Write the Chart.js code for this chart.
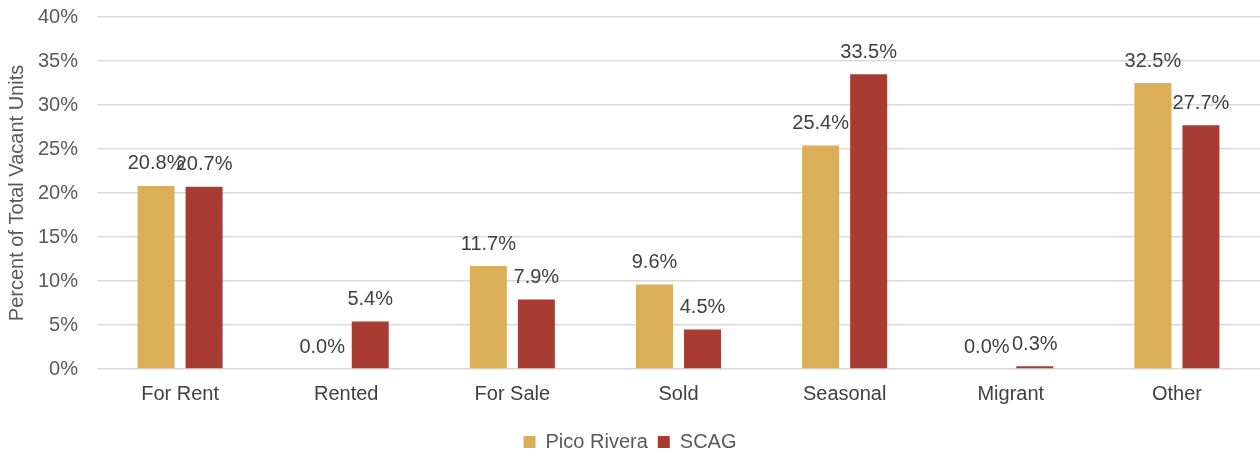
<!DOCTYPE html>
<html><head><meta charset="utf-8">
<script src="https://cdn.jsdelivr.net/npm/chart.js@4"></script>
<style>html,body{margin:0;padding:0;background:#fff;}#wrap{width:1260px;height:453px;}</style>
</head><body><div id="wrap"><canvas id="c"></canvas></div>
<script>
const categories = ["For Rent","Rented","For Sale","Sold","Seasonal","Migrant","Other"];
const picoRivera = [20.8, 0.0, 11.7, 9.6, 25.4, 0.0, 32.5];
const scag = [20.7, 5.4, 7.9, 4.5, 33.5, 0.3, 27.7];
const yTicks = [0,5,10,15,20,25,30,35,40];
const FONT = "'Liberation Sans', Arial, sans-serif";
const FS = 20;

const labelPlugin = {
  id: 'barLabels',
  beforeLayout(chart) {
    const lg = chart.legend;
    if (lg && !lg._patched) {
      const orig = lg.fit;
      lg.fit = function() { orig.call(this); this.height -= 9; };
      lg._patched = true;
    }
  },
  afterDatasetsDraw(chart) {
    const ctx = chart.ctx;
    ctx.save();
    ctx.font = FS + "px " + FONT;
    ctx.fillStyle = "#404040";
    ctx.textAlign = "center";
    ctx.textBaseline = "middle";
    chart.data.datasets.forEach((ds, i) => {
      chart.getDatasetMeta(i).data.forEach((bar, j) => {
        ctx.fillText(ds.data[j].toFixed(1) + "%", bar.x, bar.y - 22);
      });
    });
    ctx.restore();
  }
};

new Chart(document.getElementById('c'), {
  type: 'bar',
  data: {
    labels: categories,
    datasets: [
      {label: "Pico Rivera", data: picoRivera, backgroundColor: "#DBAE58", categoryPercentage: 0.578, barPercentage: 0.77},
      {label: "SCAG", data: scag, backgroundColor: "#A93C32", categoryPercentage: 0.578, barPercentage: 0.77}
    ]
  },
  options: {
    responsive: true, maintainAspectRatio: false, animation: false,
    layout: {padding: {top: 17, right: 0, left: 0, bottom: 0}},
    plugins: {
      legend: {position: 'bottom', labels: {font: {size: FS, family: FONT}, color: "#595959", boxWidth: 12, boxHeight: 12, padding: 10}},
      tooltip: {enabled: false}
    },
    scales: {
      x: {
        grid: {display: false},
        border: {display: false},
        ticks: {font: {size: FS, family: FONT}, color: "#404040", padding: 5},
        afterFit(axis) { axis.height += 11; }
      },
      y: {
        min: 0, max: 40,
        afterBuildTicks(axis) { axis.ticks = yTicks.map(v => ({value: v})); },
        afterFit(axis) { axis.paddingTop = 0; axis.paddingBottom = 0; axis.width = 97; },
        grid: {color: "#D9D9D9", lineWidth: 1.5, drawTicks: false},
        border: {display: false},
        ticks: {font: {size: FS, family: FONT}, color: "#595959", padding: 19, callback: v => v + "%"},
        title: {display: true, text: "Percent of Total Vacant Units", font: {size: FS, family: FONT}, color: "#595959", padding: {top: 5, bottom: 8}}
      }
    }
  },
  plugins: [labelPlugin]
});
</script></body></html>
